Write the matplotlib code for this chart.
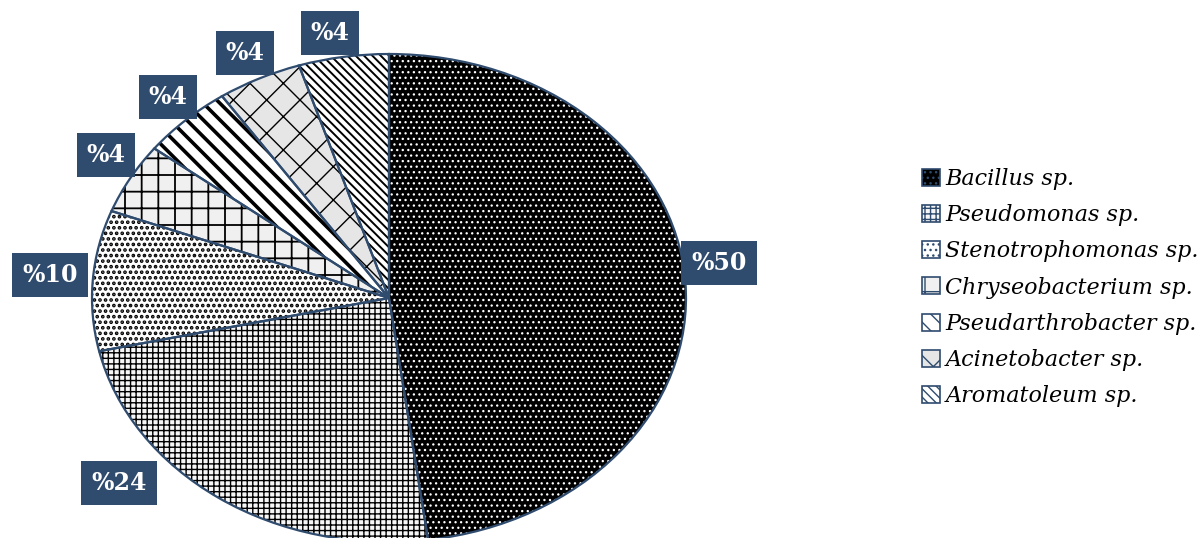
import matplotlib
matplotlib.use('Agg')
import matplotlib.pyplot as plt
from matplotlib.patches import Patch

# Dados do gráfico
especies = ['Bacillus sp.', 'Pseudomonas sp.', 'Stenotrophomonas sp.',
            'Chryseobacterium sp.', 'Pseudarthrobacter sp.',
            'Acinetobacter sp.', 'Aromatoleum sp.']
fatias = [47.9, 23.6, 9.3, 4.7, 5.0, 4.6, 4.9]   # tamanho das fatias
rotulos = ['%50', '%24', '%10', '%4', '%4', '%4', '%4']

# Estilo de cada fatia
cores_fundo = ['black', '#f6f6f6', 'white', '#f0f0f0', 'white', '#e6e6e6', 'white']
hachuras = ['...', '+++', '...', '+', '\\\\', 'x', '\\\\\\\\']
cores_hachura = ['white', 'black', 'black', 'black', 'black', 'black', 'black']
espessuras = [0.9, 1.0, 1.8, 1.3, 2.6, 1.0, 1.4]
azul = '#2f4b6e'

# posição dos rótulos (pixels)
pos_rotulos = [(719, 263), (119, 483), (50, 275), (106, 155),
               (168, 97), (245, 53), (330, 33)]

W, H = 1202, 538
fig = plt.figure(figsize=(W / 100, H / 100), dpi=100)
cx, cy, rx, ry = 389, 298, 297, 244
ax = fig.add_axes([(cx - rx) / W, (H - cy - ry) / H, 2 * rx / W, 2 * ry / H])

# fundo
ax.pie(fatias, startangle=90, counterclock=False, colors=cores_fundo,
       wedgeprops=dict(linewidth=0))
# hachuras
camada, _ = ax.pie(fatias, startangle=90, counterclock=False, hatch=hachuras,
                   wedgeprops=dict(linewidth=0, facecolor='none'))
for w, c, lw in zip(camada, cores_hachura, espessuras):
    w.set_edgecolor(c)
    w.set_linewidth(0)
    if hasattr(w, 'set_hatch_linewidth'):
        w.set_hatch_linewidth(lw)
# contornos
ax.pie(fatias, startangle=90, counterclock=False,
       wedgeprops=dict(linewidth=1.6, edgecolor=azul, facecolor='none'))

ax.set_aspect('auto')
ax.set_xlim(-1, 1)
ax.set_ylim(-1, 1)
ax.axis('off')

for txt, (px, py) in zip(rotulos, pos_rotulos):
    fig.text(px / W, 1 - py / H, txt, ha='center', va='center',
             fontsize=17, fontweight='bold', family='DejaVu Serif', color='white',
             bbox=dict(boxstyle='square,pad=0.42', facecolor=azul, edgecolor='none'))

# legenda
alcas = []
for fc, h, hc in zip(cores_fundo, hachuras, cores_hachura):
    alcas.append(Patch(facecolor=fc, hatch=h, edgecolor=azul, linewidth=1.2))
leg = fig.legend(alcas, especies, loc='upper left', bbox_to_anchor=(922 / W, 1 - 168 / H),
                 frameon=False, handlelength=0.8, handleheight=0.8, handletextpad=0.25,
                 labelspacing=0.64, borderaxespad=0, borderpad=0,
                 prop=dict(family='DejaVu Serif', style='italic', size=16))

fig.savefig('out.png', dpi=100)
